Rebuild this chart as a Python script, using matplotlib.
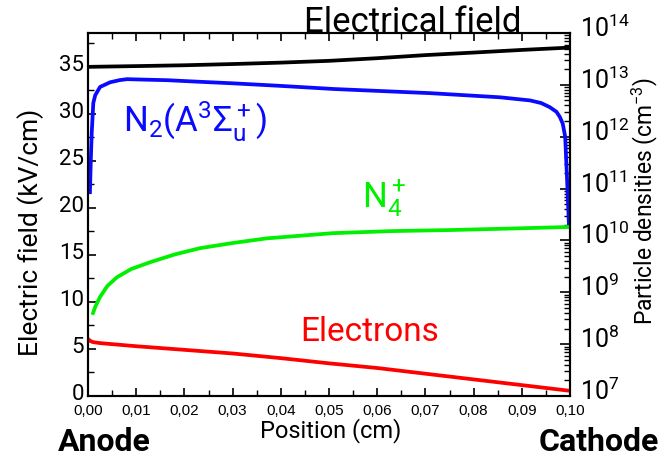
import matplotlib
matplotlib.use("Agg")
import matplotlib.pyplot as plt
import numpy as np
from matplotlib.ticker import MultipleLocator, FixedLocator, LogLocator, NullFormatter
from matplotlib.transforms import ScaledTranslation

# ---------------- data ----------------
# Electric field (kV/cm), left axis
field_x = [0.0, 0.01, 0.02, 0.03, 0.04, 0.05, 0.06, 0.07, 0.08, 0.09, 0.1]
field_v = [35.0, 35.08, 35.17, 35.3, 35.45, 35.64, 35.92, 36.25, 36.52, 36.8, 37.05]

# N2(A3Sigma_u+) density (cm^-3), right axis, log10 values
n2a_x = [0.0004, 0.0006, 0.00077, 0.0011, 0.0015, 0.0025, 0.0046, 0.0065, 0.0081,
         0.012, 0.0164, 0.023, 0.030, 0.040, 0.051, 0.061, 0.071, 0.0855,
         0.0917, 0.094, 0.0958, 0.0972, 0.0979, 0.0985, 0.0990, 0.0994, 0.0998]
n2a_log = [10.93, 11.6, 12.07, 12.65, 12.80, 12.96, 13.05, 13.09, 13.11,
           13.10, 13.09, 13.06, 13.03, 12.98, 12.92, 12.88, 12.84, 12.76,
           12.70, 12.65, 12.57, 12.48, 12.38, 12.25, 12.0, 11.16, 10.26]

# N4+ density, log10 values
n4_x = [0.00104, 0.0015, 0.0025, 0.004, 0.006, 0.009, 0.0129, 0.018, 0.0232,
        0.030, 0.0371, 0.0508, 0.063, 0.075, 0.088, 0.1]
n4_log = [8.60, 8.72, 8.91, 9.12, 9.29, 9.45, 9.58, 9.73, 9.85,
          9.95, 10.04, 10.14, 10.18, 10.20, 10.23, 10.26]

# Electron density, log10 values
el_x = [0.0, 0.0005, 0.001, 0.0025, 0.01, 0.02, 0.03, 0.04, 0.05, 0.06,
        0.07, 0.08, 0.09, 0.1]
el_log = [8.10, 8.06, 8.04, 8.02, 7.96, 7.89, 7.82, 7.73, 7.63, 7.54,
          7.43, 7.32, 7.21, 7.10]

x_ticks = [0.0, 0.01, 0.02, 0.03, 0.04, 0.05, 0.06, 0.07, 0.08, 0.09, 0.10]
x_ticklabels = ["0,00", "0,01", "0,02", "0,03", "0,04", "0,05",
                "0,06", "0,07", "0,08", "0,09", "0,10"]
y_ticks = [0, 5, 10, 15, 20, 25, 30, 35]
r_ticks_exp = [7, 8, 9, 10, 11, 12, 13, 14]

plt.rcParams['font.family'] = ['Roboto', 'DejaVu Sans']
plt.rcParams['mathtext.fontset'] = 'custom'
plt.rcParams['mathtext.rm'] = 'Roboto'
plt.rcParams['mathtext.it'] = 'Roboto:italic'
plt.rcParams['mathtext.bf'] = 'Roboto:bold'

W, H = 671, 463
fig = plt.figure(figsize=(W / 100, H / 100), dpi=100)
L, R, T, B = 88, 570, 33, 396
ax = fig.add_axes([L / W, 1 - B / H, (R - L) / W, (B - T) / H])
ax2 = ax.twinx()

lw = 2.7
ax.plot(field_x, field_v, color="black", lw=lw, solid_capstyle="butt")
ax2.plot(n2a_x, 10 ** np.array(n2a_log), color="#0a0aff", lw=lw)
ax2.plot(n4_x, 10 ** np.array(n4_log), color="#00f000", lw=lw)
ax2.plot(el_x, 10 ** np.array(el_log), color="#ff0000", lw=lw)

ax.set_xlim(0, 0.1)
ax.set_ylim(0, 38.6)
ax2.set_yscale("log")
ax2.set_ylim(1e7, 1e14)

# ticks
ax.xaxis.set_major_locator(FixedLocator(x_ticks))
ax.set_xticklabels(x_ticklabels, family=["Liberation Sans", "DejaVu Sans"], fontsize=11)
ax.xaxis.set_minor_locator(MultipleLocator(0.005))
ax.yaxis.set_major_locator(FixedLocator(y_ticks))
ax.set_yticklabels([str(v) for v in y_ticks], fontsize=16)
ax.yaxis.set_minor_locator(MultipleLocator(2.5))
ax.tick_params(axis="both", which="both", direction="in", top=True, right=False)
ax.tick_params(axis="both", which="major", length=6, width=1.2)
ax.tick_params(axis="both", which="minor", length=4, width=1.0)
ax.tick_params(axis="y", which="major", pad=3)
ax.tick_params(axis="x", which="major", pad=6)

ax2.yaxis.set_major_locator(FixedLocator([10.0 ** e for e in r_ticks_exp]))
ax2.set_yticklabels([r"$\mathregular{10^{%d}}$" % e for e in r_ticks_exp], fontsize=18)
ax2.yaxis.set_minor_locator(LogLocator(base=10, subs=np.arange(2, 10)))
ax2.yaxis.set_minor_formatter(NullFormatter())
ax2.tick_params(axis="y", which="both", direction="in")
ax2.tick_params(axis="y", which="major", length=7, width=1.2, pad=7)
ax2.tick_params(axis="y", which="minor", length=4, width=1.0)

# shift tick labels slightly upward as in the reference
up_left = ScaledTranslation(0, 4 / 100, fig.dpi_scale_trans)
for lab in ax.get_yticklabels():
    lab.set_transform(lab.get_transform() + up_left)
up_right = ScaledTranslation(0, 7 / 100, fig.dpi_scale_trans)
for lab in ax2.get_yticklabels():
    lab.set_transform(lab.get_transform() + up_right)

for a in (ax, ax2):
    for s in a.spines.values():
        s.set_linewidth(1.5)

def ftext(px, py, s, **kw):
    fig.text(px / W, 1 - py / H, s, ha="center", va="center", **kw)

# axis titles
ftext(331, 431, "Position (cm)", fontsize=17)
ftext(31, 232, "Electric field (kV/cm)", fontsize=19, rotation=90)
ftext(645, 201, r"Particle densities (cm$\mathregular{^{-3}}$)", fontsize=16.5, rotation=90)

# annotations
ftext(413, 22, "Electrical field", fontsize=25, color="black")
ftext(195, 122, r"N$\mathregular{_2}$(A$\mathregular{^3}\Sigma\mathregular{_u^+}$)", fontsize=25, color="#0a0aff")
ftext(384, 198, r"N$\mathregular{_4^+}$", fontsize=25, color="#00f000")
ftext(370, 332, "Electrons", fontsize=24, color="#ff0000")
ftext(104, 442, "Anode", fontsize=23, fontweight="bold", color="black")
ftext(599, 442, "Cathode", fontsize=23, fontweight="bold", color="black")

fig.savefig("out.png", dpi=100)
